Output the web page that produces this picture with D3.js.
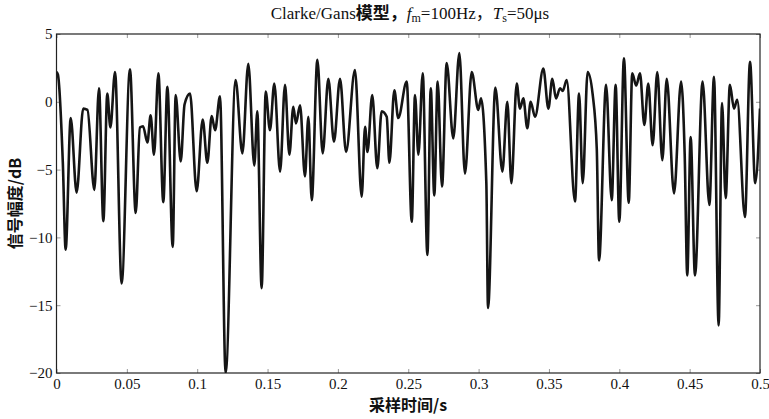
<!DOCTYPE html>
<html>
<head>
<meta charset="utf-8">
<script src="https://cdn.jsdelivr.net/npm/d3@7"></script>
<style>
  body { margin: 0; background: #fff; }
  svg { display: block; }
</style>
</head>
<body>
<svg width="769" height="419"></svg>
<script>
// sample times (s) and envelope (dB), peaks / troughs
var times = [0.000, 0.001, 0.0045, 0.0065, 0.0101, 0.0143, 0.019, 0.022, 0.0269, 0.0302,
  0.0333, 0.0361, 0.0383, 0.0416, 0.0463, 0.0522, 0.0563, 0.0593, 0.0615, 0.0646,
  0.0669, 0.0693, 0.0724, 0.0759, 0.0788, 0.0826, 0.0847, 0.0883, 0.091, 0.0949,
  0.0996, 0.1039, 0.1072, 0.1103, 0.1127, 0.1162, 0.1202, 0.1273, 0.1321, 0.1363,
  0.1406, 0.1427, 0.1458, 0.1487, 0.1517, 0.1548, 0.1589, 0.1624, 0.1655, 0.1683,
  0.1702, 0.1731, 0.1766, 0.179, 0.1814, 0.1854, 0.1892, 0.1932, 0.1972, 0.2015,
  0.2058, 0.2121, 0.2169, 0.2193, 0.221, 0.2244, 0.228, 0.2311, 0.2347, 0.2366,
  0.2401, 0.2429, 0.2489, 0.2525, 0.2548, 0.2572, 0.2603, 0.2636, 0.266, 0.2685,
  0.2709, 0.274, 0.2773, 0.282, 0.2863, 0.2903, 0.2951, 0.2998, 0.3017, 0.3055,
  0.3067, 0.3119, 0.3169, 0.3204, 0.3233, 0.3271, 0.3294, 0.3318, 0.3346, 0.337,
  0.3401, 0.346, 0.3496, 0.3524, 0.355, 0.3579, 0.3598, 0.3626, 0.3685, 0.3714,
  0.374, 0.3775, 0.381, 0.384, 0.3856, 0.3906, 0.3946, 0.3974, 0.4, 0.4033,
  0.4067, 0.4092, 0.412, 0.4147, 0.4178, 0.4206, 0.4237, 0.427, 0.4306, 0.4337,
  0.4389, 0.4439, 0.4465, 0.4483, 0.4507, 0.4538, 0.4592, 0.464, 0.4673, 0.4706,
  0.473, 0.4756, 0.4786, 0.4815, 0.4838, 0.4893, 0.4929, 0.4966, 0.5];
var levels = [2.2, 2.0, -4.5, -10.9, -1.2, -6.7, -0.5, -0.6, -6.5, 1.0,
  -8.8, 0.6, -1.9, 2.2, -13.4, 2.4, -8.2, -1.9, -1.8, -3.0,
  -1.0, -3.9, 2.1, -7.4, 1.1, -10.7, 0.5, -4.4, -0.2, 0.6,
  -6.6, -1.3, -4.5, -1.05, -2.1, 0.4, -20, 1.6, -3.8, 2.8,
  -4.7, -0.7, -13.75, 0.75, -2.1, 1.35, -5.15, 1.25, -3.9, -0.36,
  -1.6, -0.25, -5.5, -1.1, -7.25, 3.1, -3.8, 1.7, -2.95, 1.7,
  -3.7, 2.35, -7.0, -1.85, -3.7, 0.5, -4.9, -0.7, -1.1, -4.5,
  0.85, -1.2, 1.5, -8.85, 0.5, -3.9, 2.1, -11.3, 1.0, -6.9,
  1.5, -6.25, 2.85, -2.7, 3.6, -5.3, 2.2, -0.6, 0.25, -6.0,
  -15.2, 1.05, -5.15, 0.0, -6.0, 1.35, -0.5, 0.25, -1.95, 0.0,
  -1.1, 2.45, -0.5, 1.7, 0.25, 1.0, 0.8, 1.6, -7.35, 0.6,
  -6.0, 2.2, 0.6, -3.5, -11.7, 1.25, -7.25, 1.25, -8.85, 3.2,
  -7.45, 2.1, 1.2, 2.1, -1.7, 1.35, -3.2, 2.2, -4.3, 1.7,
  -6.75, 1.5, -4.0, -12.8, -2.6, -12.8, 1.5, -7.6, 1.85, -16.5,
  -0.1, -7.1, 1.25, -0.5, 0.15, -8.5, 2.95, -6.0, -0.5];

var xTicks = [0, 0.05, 0.1, 0.15, 0.2, 0.25, 0.3, 0.35, 0.4, 0.45, 0.5];
var xTickLabels = ["0", "0.05", "0.1", "0.15", "0.2", "0.25", "0.3", "0.35", "0.4", "0.45", "0.5"];
var yTicks = [-20, -15, -10, -5, 0, 5];
var yTickLabels = ["\u221220", "\u221215", "\u221210", "\u22125", "0", "5"];

var plotL = 56.5, plotR = 760, plotT = 34, plotB = 373;
var svg = d3.select("svg");
var serif = "'Liberation Serif', 'Times New Roman', 'Noto Sans CJK SC', serif";

var x = d3.scaleLinear().domain([0, 0.5]).range([plotL, plotR]);
var y = d3.scaleLinear().domain([-20, 5]).range([plotB, plotT]);

var pts = times.map(function(t, i) { return [t, levels[i]]; });

svg.append("clipPath").attr("id", "plot")
  .append("rect").attr("x", plotL).attr("y", plotT)
  .attr("width", plotR - plotL).attr("height", plotB - plotT);

// axes, matlab style: ticks pointing inward, box all round
function styleAxis(g) {
  g.select(".domain").remove();
  g.selectAll(".tick line").attr("stroke", "#999");
  g.selectAll("text").attr("font-family", serif).attr("font-size", 15).attr("fill", "#111");
}
svg.append("g").attr("transform", "translate(0," + plotB + ")")
  .call(d3.axisBottom(x).tickValues(xTicks).tickSizeInner(-4).tickSizeOuter(0).tickPadding(5)
    .tickFormat(function(d, i) { return xTickLabels[i]; }))
  .call(styleAxis);
svg.append("g").attr("transform", "translate(0," + plotT + ")")
  .call(d3.axisTop(x).tickValues(xTicks).tickSizeInner(-4).tickSizeOuter(0).tickFormat(""))
  .call(styleAxis);
svg.append("g").attr("transform", "translate(" + plotL + ",0)")
  .call(d3.axisLeft(y).tickValues(yTicks).tickSizeInner(-4).tickSizeOuter(0).tickPadding(4)
    .tickFormat(function(d, i) { return yTickLabels[i]; }))
  .call(styleAxis);
svg.append("g").attr("transform", "translate(" + plotR + ",0)")
  .call(d3.axisRight(y).tickValues(yTicks).tickSizeInner(-4).tickSizeOuter(0).tickFormat(""))
  .call(styleAxis);

svg.append("rect").attr("x", plotL).attr("y", plotT)
  .attr("width", plotR - plotL).attr("height", plotB - plotT)
  .attr("fill", "none").attr("stroke", "#222").attr("stroke-width", 1.2);

var line = d3.line()
  .x(function(d) { return x(d[0]); })
  .y(function(d) { return y(d[1]); })
  .curve(d3.curveMonotoneX);

svg.append("path").datum(pts)
  .attr("clip-path", "url(#plot)")
  .attr("d", line)
  .attr("fill", "none").attr("stroke", "#151515").attr("stroke-width", 2.6)
  .attr("stroke-linejoin", "round");

// title
var title = svg.append("text").attr("x", 410).attr("y", 19)
  .attr("text-anchor", "middle").attr("font-family", serif).attr("font-size", 17).attr("fill", "#111");
title.append("tspan").text("Clarke/Gans");
title.append("tspan").attr("font-weight", "bold").attr("font-family", "'Noto Sans CJK SC'").text("模型，");
title.append("tspan").attr("font-style", "italic").text("f");
title.append("tspan").attr("font-size", 12).attr("dy", 3).text("m");
title.append("tspan").attr("dy", -3).text("=100Hz，");
title.append("tspan").attr("font-style", "italic").text("T");
title.append("tspan").attr("font-size", 12).attr("dy", 3).text("s");
title.append("tspan").attr("dy", -3).text("=50μs");

// axis labels
svg.append("text").attr("x", 408).attr("y", 411).attr("text-anchor", "middle")
  .attr("font-family", "'Noto Sans CJK SC', " + serif).attr("font-weight", "bold")
  .attr("font-size", 16).attr("fill", "#111").text("采样时间/s");
svg.append("text").attr("transform", "translate(21," + ((plotT + plotB) / 2) + ") rotate(-90)")
  .attr("text-anchor", "middle")
  .attr("font-family", "'Noto Sans CJK SC', " + serif).attr("font-weight", "bold")
  .attr("font-size", 16).attr("fill", "#111").text("信号幅度/dB");
</script>
</body>
</html>
